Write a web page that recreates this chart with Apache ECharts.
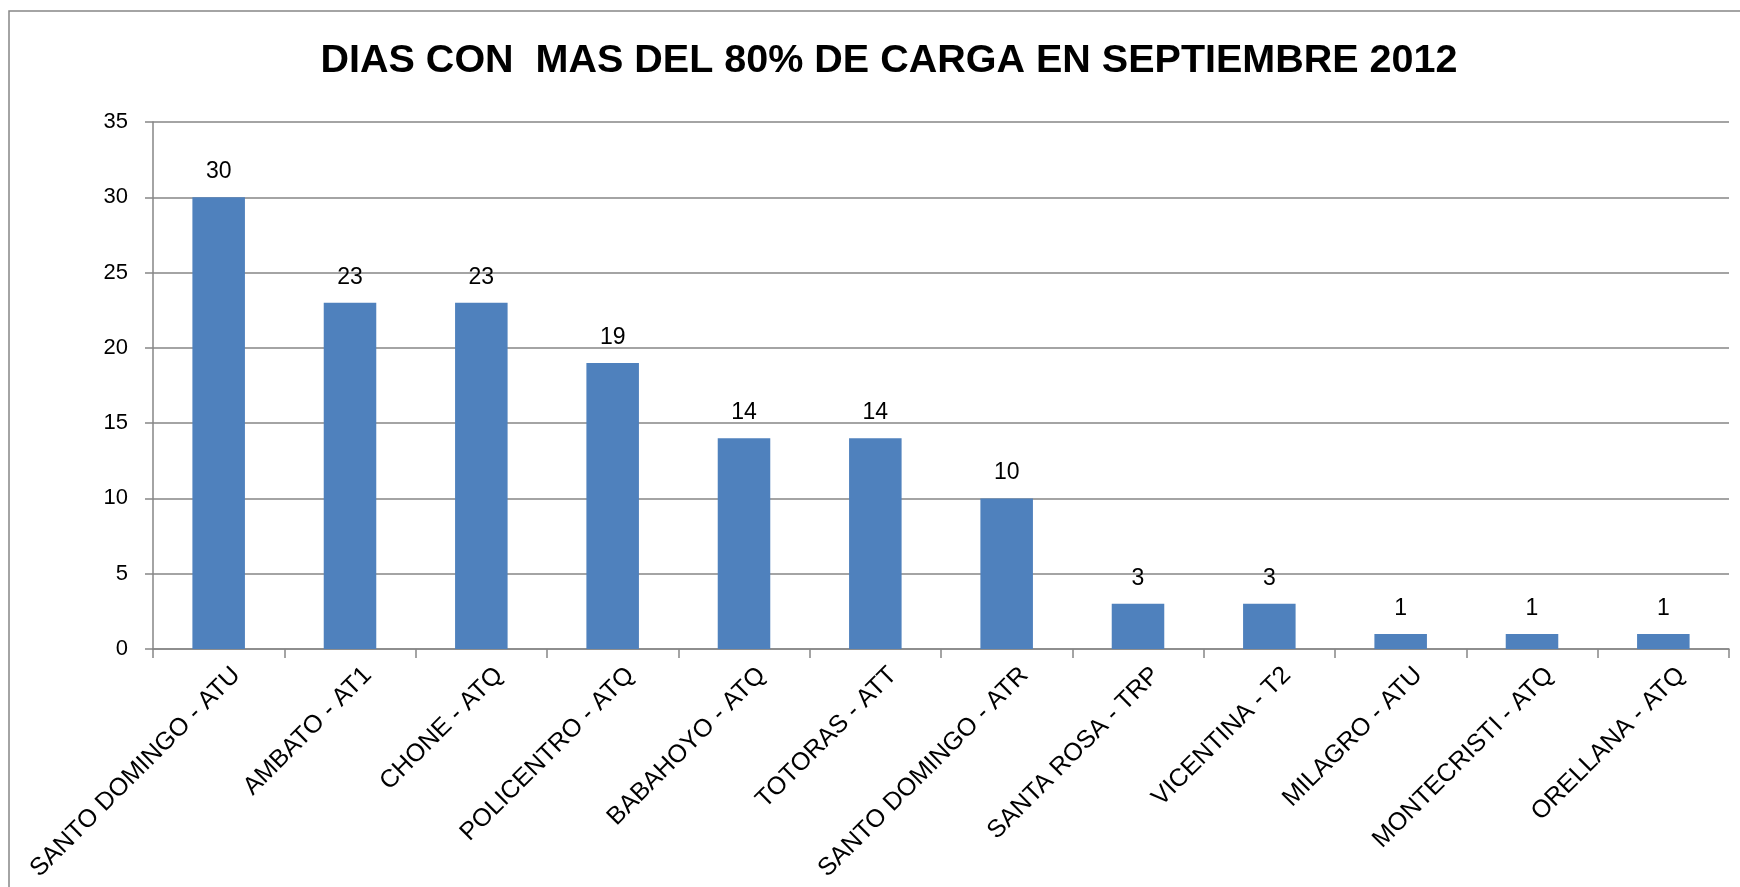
<!DOCTYPE html>
<html lang="es">
<head>
  <meta charset="UTF-8">
  <title>Dias con mas del 80% de carga</title>
  <script src="https://cdn.jsdelivr.net/npm/echarts@6/dist/echarts.min.js"></script>
  <style>
    html, body { margin: 0; padding: 0; background: #fff; }
    #main { width: 1740px; height: 887px; }
  </style>
</head>
<body>
  <div id="main"></div>
  <script>
    // datos del grafico
    var subestaciones = [
      "SANTO DOMINGO - ATU", "AMBATO - AT1", "CHONE - ATQ", "POLICENTRO - ATQ",
      "BABAHOYO - ATQ", "TOTORAS - ATT", "SANTO DOMINGO - ATR", "SANTA ROSA - TRP",
      "VICENTINA - T2", "MILAGRO - ATU", "MONTECRISTI - ATQ", "ORELLANA - ATQ"
    ];
    var dias = [30, 23, 23, 19, 14, 14, 10, 3, 3, 1, 1, 1];
    var yTicks = [0, 5, 10, 15, 20, 25, 30, 35];

    var gris = "#868686";
    var fuente = "'Liberation Sans', Arial, sans-serif";

    var chart = echarts.init(document.getElementById("main"));
    var option = {
      animation: false,
      title: {
        text: "DIAS CON  MAS DEL 80% DE CARGA EN SEPTIEMBRE 2012",
        left: 884,
        textAlign: "center",
        top: 36,
        textStyle: { fontFamily: fuente, fontWeight: "bold", fontSize: 39.5, color: "#000" }
      },
      // marco exterior (solo se ven los lados izquierdo y superior)
      graphic: [{
        type: "rect",
        shape: { x: 9, y: 11, width: 1760, height: 900 },
        style: { fill: "none", stroke: gris, lineWidth: 1.5 },
        silent: true
      }],
      grid: { left: 153, right: 11, top: 122, bottom: 238 },
      xAxis: {
        type: "category",
        data: subestaciones,
        axisLine: { lineStyle: { color: gris, width: 1.5 } },
        axisTick: { show: true, length: 9, alignWithLabel: false, lineStyle: { color: gris, width: 1.5 } },
        axisLabel: { rotate: 45, interval: 0, margin: 40, padding: [0, -25, 0, 0], fontFamily: fuente, fontSize: 25, color: "#000" }
      },
      yAxis: {
        type: "value",
        min: yTicks[0],
        max: yTicks[yTicks.length - 1],
        interval: 5,
        axisLine: { show: true, lineStyle: { color: gris, width: 1.5 } },
        axisTick: { show: true, length: 8, lineStyle: { color: gris, width: 1.5 } },
        axisLabel: { margin: 25, fontFamily: fuente, fontSize: 22, color: "#000" },
        splitLine: { lineStyle: { color: gris, width: 1.5 } }
      },
      series: [{
        type: "bar",
        data: dias,
        barCategoryGap: "60%",
        itemStyle: { color: "#4F81BD" },
        label: { show: true, position: "top", distance: 14, fontFamily: fuente, fontSize: 23, color: "#000" }
      }]
    };
    chart.setOption(option);
  </script>
</body>
</html>
